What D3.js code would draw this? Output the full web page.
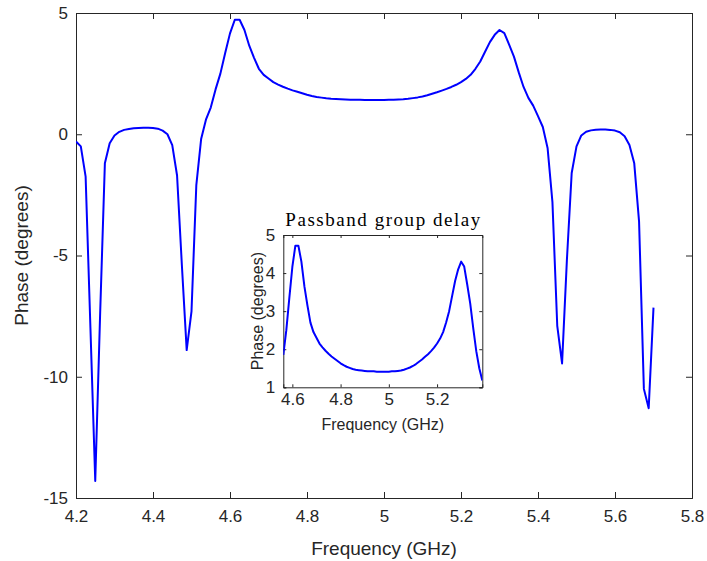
<!DOCTYPE html>
<html>
<head>
<meta charset="utf-8">
<script src="https://cdn.jsdelivr.net/npm/d3@7"></script>
<style>
  html, body { margin: 0; padding: 0; background: #fff; }
  svg { display: block; }
</style>
</head>
<body>
<svg id="chart" width="707" height="561"></svg>
<script>
// Frequency sweep (GHz)
const freqGHz = [
  4.2, 4.2125, 4.225, 4.2375, 4.25, 4.2625, 4.275, 4.2875, 4.3, 4.3125,
  4.325, 4.3375, 4.35, 4.3625, 4.375, 4.3875, 4.4, 4.4125, 4.425, 4.4375,
  4.45, 4.4625, 4.475, 4.4875, 4.5, 4.5125, 4.525, 4.5375, 4.55, 4.5625,
  4.575, 4.5875, 4.6, 4.6125, 4.625, 4.6375, 4.65, 4.6625, 4.675, 4.6875,
  4.7, 4.7125, 4.725, 4.7375, 4.75, 4.7625, 4.775, 4.7875, 4.8, 4.8125,
  4.825, 4.8375, 4.85, 4.8625, 4.875, 4.8875, 4.9, 4.9125, 4.925, 4.9375,
  4.95, 4.9625, 4.975, 4.9875, 5.0, 5.0125, 5.025, 5.0375, 5.05, 5.0625,
  5.075, 5.0875, 5.1, 5.1125, 5.125, 5.1375, 5.15, 5.1625, 5.175, 5.1875,
  5.2, 5.2125, 5.225, 5.2375, 5.25, 5.2625, 5.275, 5.2875, 5.3, 5.3125,
  5.325, 5.3375, 5.35, 5.3625, 5.375, 5.3875, 5.4, 5.4125, 5.425, 5.4375,
  5.45, 5.4625, 5.475, 5.4875, 5.5, 5.5125, 5.525, 5.5375, 5.55, 5.5625,
  5.575, 5.5875, 5.6, 5.6125, 5.625, 5.6375, 5.65, 5.6625, 5.675, 5.6875,
  5.7
];

// Measured phase response (degrees)
const phaseDeg = [
  -0.3, -0.5, -1.75, -8.0, -14.3, -7.5, -1.2, -0.37, -0.05, 0.1,
  0.18, 0.22, 0.25, 0.26, 0.27, 0.27, 0.26, 0.23, 0.15, 0.0,
  -0.45, -1.7, -5.4, -8.9, -7.3, -2.1, -0.2, 0.6, 1.1, 1.85,
  2.5, 3.35, 4.16, 4.72, 4.72, 4.3, 3.65, 3.15, 2.7, 2.45,
  2.3, 2.15, 2.05, 1.96, 1.88, 1.81, 1.75, 1.69, 1.63, 1.58,
  1.54, 1.51, 1.48, 1.46, 1.45, 1.44, 1.43, 1.42, 1.42, 1.42,
  1.41, 1.41, 1.41, 1.41, 1.41, 1.42, 1.42, 1.43, 1.44, 1.46,
  1.49, 1.52, 1.56, 1.61, 1.67, 1.73, 1.80, 1.87, 1.95, 2.04,
  2.15, 2.28, 2.45, 2.7, 3.0, 3.4, 3.8, 4.1, 4.3, 4.17,
  3.7, 3.2, 2.55, 1.95, 1.5, 1.18, 0.75, 0.3, -0.58, -2.8,
  -7.9, -9.45, -5.2, -1.6, -0.5, -0.05, 0.1, 0.16, 0.19, 0.2,
  0.2, 0.18, 0.15, 0.08, -0.08, -0.44, -1.2, -3.6, -10.5, -11.3,
  -7.15
];

// Passband slice shown in the inset (sample indices, inclusive)
const passbandRange = [29, 95];

// Tick values
const mainXTicks = [4.2, 4.4, 4.6, 4.8, 5.0, 5.2, 5.4, 5.6, 5.8];
const mainYTicks = [5, 0, -5, -10, -15];
const insetXTicks = [4.6, 4.8, 5.0, 5.2];
const insetYTicks = [1, 2, 3, 4, 5];

const points = freqGHz.map((f, i) => ({ f, p: phaseDeg[i] }));
const passband = points.slice(passbandRange[0], passbandRange[1] + 1);

const svg = d3.select("#chart");
const axisColor = "#262626";
const lineColor = "#0000ff";
const sansFont = "'Liberation Sans', Arial, Helvetica, sans-serif";
const fmt = d => (Math.round(d * 10) / 10).toString();

// Draws a boxed axes with inward ticks on all four sides
function drawAxes(g, x, y, xTicks, yTicks, w, h, tickLen, fontSize, xPad) {
  g.append("rect")
    .attr("x", 0).attr("y", 0).attr("width", w).attr("height", h)
    .attr("fill", "#fff");

  const bottom = d3.axisBottom(x).tickValues(xTicks).tickSize(-tickLen).tickPadding(xPad).tickFormat(fmt);
  const top = d3.axisTop(x).tickValues(xTicks).tickSize(-tickLen).tickFormat("");
  const left = d3.axisLeft(y).tickValues(yTicks).tickSize(-tickLen).tickPadding(8).tickFormat(fmt);
  const right = d3.axisRight(y).tickValues(yTicks).tickSize(-tickLen).tickFormat("");

  const gb = g.append("g").attr("transform", `translate(0,${h})`).call(bottom);
  const gt = g.append("g").call(top);
  const gl = g.append("g").call(left);
  const gr = g.append("g").attr("transform", `translate(${w},0)`).call(right);

  [gb, gt, gl, gr].forEach(a => {
    a.selectAll("path.domain").attr("stroke", axisColor).attr("stroke-width", 1);
    a.selectAll(".tick line").attr("stroke", axisColor).attr("stroke-width", 1);
    a.selectAll("text")
      .attr("fill", axisColor)
      .style("font-family", sansFont)
      .style("font-size", fontSize + "px");
  });
  return { gb, gl };
}

// ---------- Main axes ----------
const M = { left: 76, top: 13, width: 616, height: 485 };
const x = d3.scaleLinear().domain([4.2, 5.8]).range([0, M.width]);
const y = d3.scaleLinear().domain([-15, 5]).range([M.height, 0]);

const main = svg.append("g").attr("transform", `translate(${M.left},${M.top})`);
drawAxes(main, x, y, mainXTicks, mainYTicks, M.width, M.height, 6, 17, 12);

main.append("clipPath").attr("id", "clipMain")
  .append("rect").attr("width", M.width).attr("height", M.height);

const line = d3.line().x(d => x(d.f)).y(d => y(d.p));
main.append("path")
  .datum(points)
  .attr("clip-path", "url(#clipMain)")
  .attr("fill", "none")
  .attr("stroke", lineColor)
  .attr("stroke-width", 2)
  .attr("stroke-linejoin", "round")
  .attr("d", line);

svg.append("text")
  .attr("x", M.left + M.width / 2).attr("y", 555)
  .attr("text-anchor", "middle")
  .attr("fill", axisColor)
  .style("font-family", sansFont).style("font-size", "19px")
  .text("Frequency (GHz)");

svg.append("text")
  .attr("transform", `translate(28,${M.top + M.height / 2}) rotate(-90)`)
  .attr("text-anchor", "middle")
  .attr("fill", axisColor)
  .style("font-family", sansFont).style("font-size", "19px")
  .text("Phase (degrees)");

// ---------- Inset axes ----------
const I = { left: 283.3, top: 235, width: 199, height: 152.3 };
const xi = d3.scaleLinear().domain([passband[0].f, passband[passband.length - 1].f]).range([0, I.width]);
const yi = d3.scaleLinear().domain([1, 5]).range([I.height, 0]);

const inset = svg.append("g").attr("transform", `translate(${I.left},${I.top})`);
drawAxes(inset, xi, yi, insetXTicks, insetYTicks, I.width, I.height, 3, 17, 6);

inset.append("clipPath").attr("id", "clipInset")
  .append("rect").attr("width", I.width).attr("height", I.height);

const lineInset = d3.line().x(d => xi(d.f)).y(d => yi(d.p));
inset.append("path")
  .datum(passband)
  .attr("clip-path", "url(#clipInset)")
  .attr("fill", "none")
  .attr("stroke", lineColor)
  .attr("stroke-width", 2)
  .attr("stroke-linejoin", "round")
  .attr("d", lineInset);

svg.append("text")
  .attr("x", I.left + I.width / 2).attr("y", 226)
  .attr("text-anchor", "middle")
  .attr("fill", "#000")
  .attr("textLength", 195).attr("lengthAdjust", "spacing")
  .style("font-family", "'Liberation Serif', 'DejaVu Serif', serif")
  .style("font-size", "19px")
  .text("Passband group delay");

svg.append("text")
  .attr("x", I.left + I.width / 2).attr("y", 430)
  .attr("text-anchor", "middle")
  .attr("fill", axisColor)
  .style("font-family", sansFont).style("font-size", "16px")
  .text("Frequency (GHz)");

svg.append("text")
  .attr("transform", `translate(263,${I.top + I.height / 2}) rotate(-90)`)
  .attr("text-anchor", "middle")
  .attr("fill", axisColor)
  .style("font-family", sansFont).style("font-size", "16px")
  .text("Phase (degrees)");
</script>
</body>
</html>
